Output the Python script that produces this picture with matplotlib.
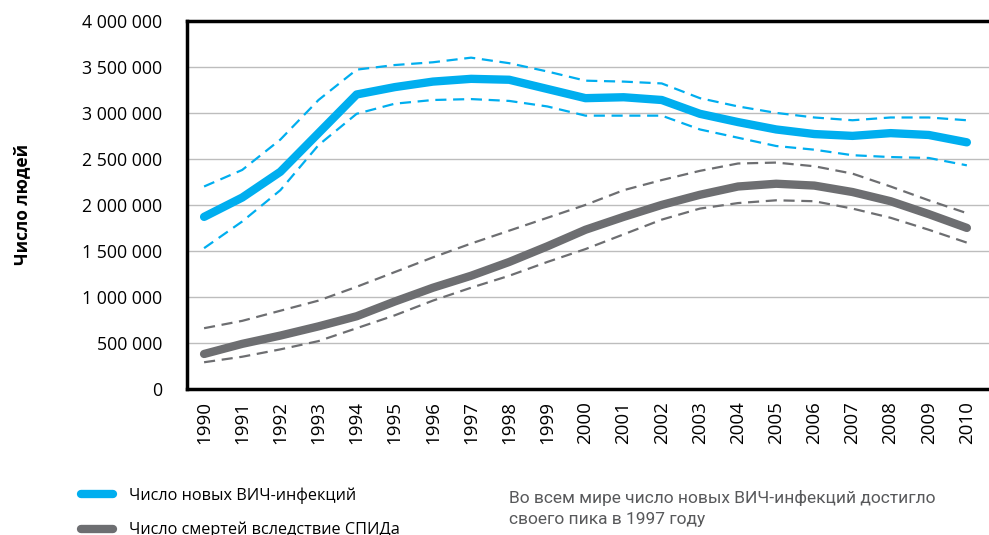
import matplotlib
matplotlib.use("Agg")
import matplotlib.pyplot as plt
from matplotlib.ticker import FuncFormatter

plt.rcParams['font.family'] = ['Open Sans', 'DejaVu Sans']

years = list(range(1990, 2011))

new_inf = [1.87, 2.08, 2.36, 2.78, 3.20, 3.28, 3.34, 3.37, 3.36, 3.26, 3.16,
           3.17, 3.14, 2.99, 2.90, 2.82, 2.77, 2.75, 2.78, 2.76, 2.68]
new_inf_hi = [2.20, 2.38, 2.71, 3.14, 3.47, 3.52, 3.55, 3.60, 3.54, 3.45, 3.35,
              3.34, 3.32, 3.16, 3.07, 3.00, 2.95, 2.92, 2.95, 2.95, 2.92]
new_inf_lo = [1.53, 1.82, 2.16, 2.65, 2.99, 3.10, 3.14, 3.15, 3.13, 3.07, 2.97,
              2.97, 2.97, 2.82, 2.73, 2.64, 2.60, 2.54, 2.52, 2.51, 2.43]

deaths = [0.38, 0.49, 0.58, 0.68, 0.79, 0.95, 1.10, 1.23, 1.38, 1.55, 1.73,
          1.87, 2.00, 2.11, 2.20, 2.23, 2.21, 2.14, 2.04, 1.90, 1.75]
deaths_hi = [0.66, 0.74, 0.85, 0.96, 1.11, 1.27, 1.43, 1.58, 1.72, 1.86, 2.00,
             2.16, 2.27, 2.37, 2.45, 2.46, 2.42, 2.34, 2.20, 2.05, 1.91]
deaths_lo = [0.29, 0.35, 0.43, 0.52, 0.66, 0.80, 0.96, 1.10, 1.23, 1.38, 1.52,
             1.68, 1.84, 1.96, 2.02, 2.05, 2.04, 1.96, 1.86, 1.73, 1.59]

yticks = [0, 500000, 1000000, 1500000, 2000000, 2500000, 3000000, 3500000, 4000000]

label_new = "Число новых ВИЧ-инфекций"
label_deaths = "Число смертей вследствие СПИДа"
ylabel = "Число людей"
note = "Во всем мире число новых ВИЧ-инфекций достигло\nсвоего пика в 1997 году"

blue = "#00AEEF"
gray = "#6D6E71"

fig = plt.figure(figsize=(9.89, 5.35), dpi=100)
ax = fig.add_axes([0.189, 0.273, 0.811, 0.688])

M = 1e6
dash = (0, (5, 3))
ax.plot(years, [v * M for v in new_inf_hi], color=blue, lw=1.6, ls=dash, zorder=3)
ax.plot(years, [v * M for v in new_inf_lo], color=blue, lw=1.6, ls=dash, zorder=3)
ax.plot(years, [v * M for v in deaths_hi], color=gray, lw=1.6, ls=dash, zorder=3)
ax.plot(years, [v * M for v in deaths_lo], color=gray, lw=1.6, ls=dash, zorder=3)
l1, = ax.plot(years, [v * M for v in new_inf], color=blue, lw=6, solid_capstyle='round',
              solid_joinstyle='round', zorder=4, label=label_new)
l2, = ax.plot(years, [v * M for v in deaths], color=gray, lw=6, solid_capstyle='round',
              solid_joinstyle='round', zorder=4, label=label_deaths)

ax.set_ylim(0, 4000000)
ax.set_xlim(1989.55, 2010.58)
ax.set_yticks(yticks)
ax.yaxis.set_major_formatter(FuncFormatter(lambda v, p: f"{int(v):,}".replace(",", " ")))
ax.set_xticks(years)
ax.set_xticklabels([str(y) for y in years], rotation=90, fontsize=13.5)
ax.tick_params(axis='y', labelsize=12.8, length=0, pad=18)
ax.tick_params(axis='x', length=0, pad=9)
ax.grid(axis='y', color='#BDBDBD', lw=1)
ax.set_axisbelow(True)
for s in ['left', 'top', 'bottom']:
    ax.spines[s].set_linewidth(2.5)
    ax.spines[s].set_color('black')
ax.spines['right'].set_visible(False)

fig.text(0.022, 0.617, ylabel, rotation=90, fontsize=12.5, fontweight='bold',
         ha='center', va='center')

fig.legend(handles=[l1, l2], loc='upper left', bbox_to_anchor=(0.075, 0.101),
           frameon=False, fontsize=11.7, handlelength=2.0, labelspacing=1.1,
           handletextpad=0.95, borderaxespad=0)

fig.text(0.515, 0.0495, note, fontsize=12.5, color='#58595B',
         family=['Roboto', 'DejaVu Sans'], va='center',
         linespacing=1.55)

fig.savefig("out.png", dpi=100)
